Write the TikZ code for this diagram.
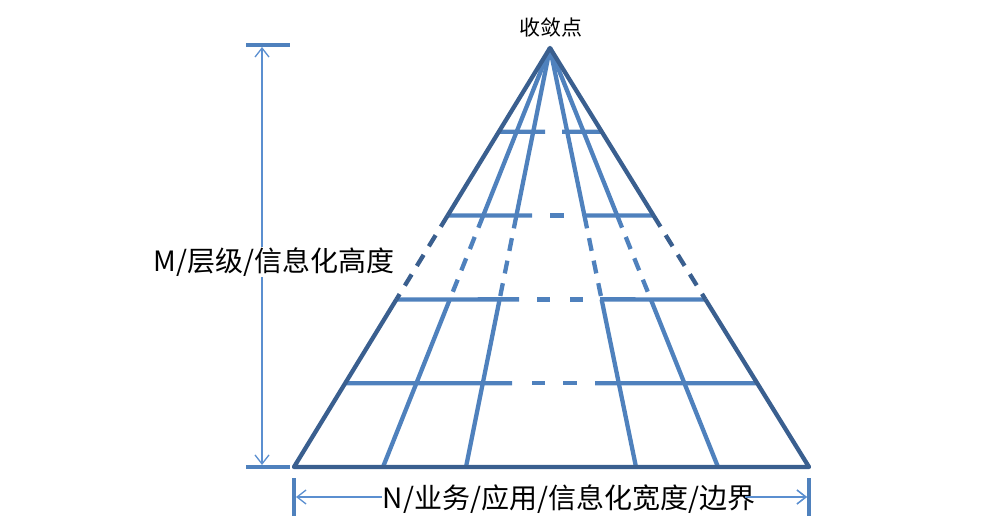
\documentclass[tikz,border=0pt]{standalone}
\usepackage{fontspec}
\newfontfamily\cjk{Noto Sans CJK SC}
\usetikzlibrary{calc,arrows.meta}
\definecolor{gridc}{HTML}{4F81BD}
\definecolor{edgec}{HTML}{3A5F8F}
\definecolor{dimc}{HTML}{5B8FD0}
\begin{document}
\begin{tikzpicture}[x=1pt,y=-1pt,
  grid/.style={gridc,line width=4.3pt},
  edge/.style={edgec,line width=4.3pt},
  gdash/.style={gridc,line width=4.3pt,dash pattern=on 13pt off 10pt},
  edash/.style={edgec,line width=4.3pt,dash pattern=on 13pt off 10pt},
  dimarrow/.style={dimc,line width=1.3pt,{Straight Barb[length=9pt,width=14pt]}-{Straight Barb[length=9pt,width=14pt]}},
  lbl/.style={font=\cjk\fontsize{21}{24}\selectfont,inner sep=1pt},
  big/.style={font=\cjk\fontsize{28}{32}\selectfont,inner sep=1pt}]
\useasboundingbox (0,0) rectangle (999,529);
\coordinate (A) at (550,48);
\coordinate (BL) at (294,467);
\coordinate (BR) at (809,467);
\foreach \n/\x in {1/383,2/466,3/636,4/718}{\coordinate (B\n) at (\x,467);}
% interior rays
\foreach \n in {1,2,3,4}{
  \draw[grid] (A) -- ($(A)!0.4!(B\n)$);
  \draw[gdash] ($(A)!0.4!(B\n)$) -- ($(A)!0.6!(B\n)$);
  \draw[grid] ($(A)!0.6!(B\n)$) -- (B\n);
}
% horizontals
\draw[grid] ($(A)!0.2!(BL)$) -- (545,131.8);
\draw[grid] (562,131.8) -- ($(A)!0.2!(BR)$);
\draw[grid] ($(A)!0.4!(BL)$) -- (532,215.6);
\draw[grid] (550,215.6) -- (564,215.6);
\draw[grid] (584,215.6) -- ($(A)!0.4!(BR)$);
\draw[grid] ($(A)!0.6!(BL)$) -- (519,299.4);
\draw[grid] (537,299.4) -- (550,299.4);
\draw[grid] (570,299.4) -- (583,299.4);
\draw[grid] (600,299.4) -- ($(A)!0.6!(BR)$);
\draw[grid] ($(A)!0.8!(BL)$) -- (512,383.2);
\draw[grid] (532,383.2) -- (545,383.2);
\draw[grid] (563,383.2) -- (577,383.2);
\draw[grid] (595,383.2) -- ($(A)!0.8!(BR)$);
% edges
\draw[edge,line join=round] ($(A)!0.4!(BL)$) -- (A) -- ($(A)!0.4!(BR)$);
\draw[edash] ($(A)!0.4!(BL)$) -- ($(A)!0.6!(BL)$);
\draw[edash] ($(A)!0.4!(BR)$) -- ($(A)!0.6!(BR)$);
\draw[edge,line join=round] ($(A)!0.6!(BL)$) -- (BL) -- (BR) -- ($(A)!0.6!(BR)$);
% title
\node[lbl] (top) at (551,27) {收敛点};
% vertical dimension
\coordinate (T1) at (246,45); \coordinate (T2) at (290,45);
\coordinate (U1) at (246,467); \coordinate (U2) at (290,467);
\draw[gridc,line width=3.5pt] (T1) -- (T2);
\draw[gridc,line width=3.5pt] (U1) -- (U2);
\coordinate (VA) at (262,47); \coordinate (VB) at (262,465);
\draw[dimarrow] (VA) -- (VB);
\node[big,fill=white] (mlab) at (274,262) {M/层级/信息化高度};
% horizontal dimension
\coordinate (L1) at (294,478); \coordinate (L2) at (294,516);
\coordinate (R1) at (809,478); \coordinate (R2) at (809,516);
\draw[gridc,line width=3.5pt] (L1) -- (L2);
\draw[gridc,line width=3.5pt] (R1) -- (R2);
\coordinate (HA) at (296,497); \coordinate (HB) at (807,497);
\draw[dimarrow] (HA) -- (HB);
\node[big,fill=white] (nlab) at (569,499) {N/业务/应用/信息化宽度/边界};
\coordinate (HC) at (745,497);
\draw[dimc,line width=1.3pt,-{Straight Barb[length=9pt,width=14pt]}] (HC) -- (HB);
\end{tikzpicture}
\end{document}
